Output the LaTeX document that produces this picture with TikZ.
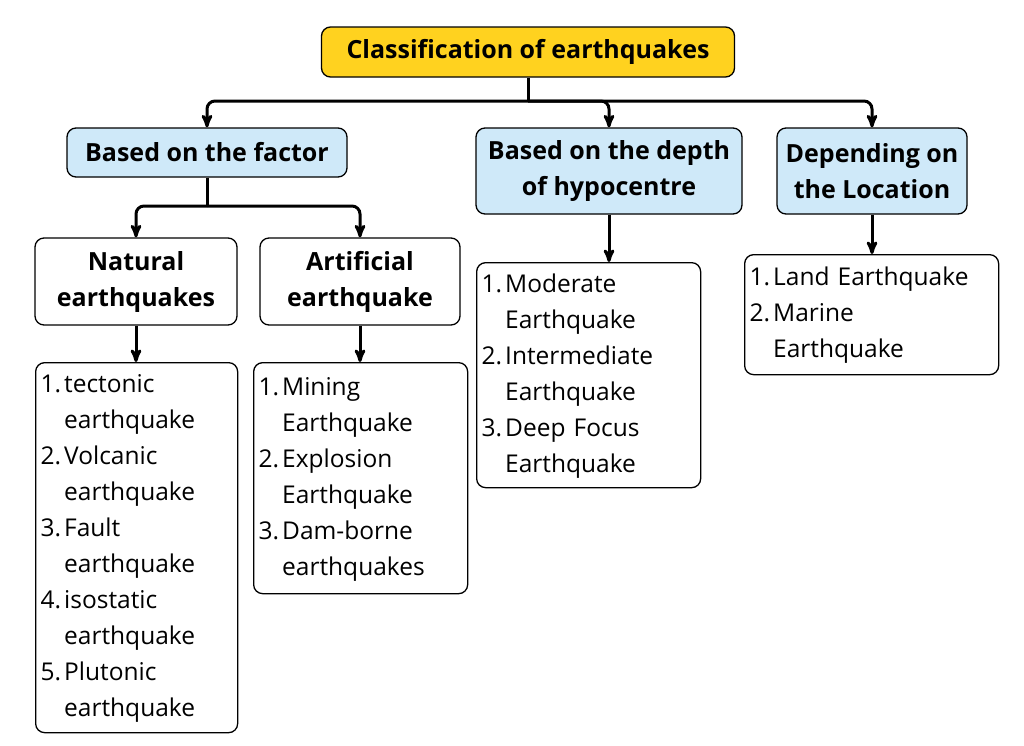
\documentclass[tikz,border=0pt]{standalone}
\usepackage{fontspec}
\setmainfont{Open Sans}
\usetikzlibrary{arrows}
\usetikzlibrary{positioning}
\definecolor{titlefill}{HTML}{FFD21F}
\definecolor{headfill}{HTML}{CFE9F9}
\tikzset{
  box/.style={draw,line width=1.3pt,rounded corners=9pt,align=center,inner sep=0pt,font=\fontsize{25}{36}\selectfont\bfseries},
  listbox/.style={draw,line width=1.3pt,rounded corners=9pt,anchor=north west,inner xsep=5pt,inner ysep=4pt,align=left},
  link/.style={line width=3pt,->,>=stealth',rounded corners=8pt}
}
\newcommand{\items}[1]{\begin{tabular}{@{}l@{\hspace{3pt}}l@{}}#1\end{tabular}}
\begin{document}
\begin{tikzpicture}[x=1pt,y=-1pt,font=\fontsize{24.5}{36}\selectfont]
  \useasboundingbox [fill=white] (0,0) rectangle (1024,745);

  \node [box,fill=titlefill,minimum width=413,minimum height=50] (title) at (528,52) {Classification of earthquakes};

  \node [box,fill=headfill,minimum width=280,minimum height=49] (factor) at (207,152.5) {Based on the factor};
  \node [box,fill=headfill,minimum width=266,minimum height=86] (depth) at (609,171) {Based on the depth\\of hypocentre};
  \node [box,fill=headfill,minimum width=190,minimum height=86] (loc) at (872,171) {Depending on\\the Location};

  \node [box,minimum width=202,minimum height=87] (natural) at (136,281.5) {Natural\\earthquakes};
  \node [box,minimum width=200,minimum height=87] (artificial) at (360,281.5) {Artificial\\earthquake};

  \node [listbox,text width=192,minimum height=370] (natlist) at (35,362) {\items{
    1. & tectonic\\ & earthquake\\ 2. & Volcanic\\ & earthquake\\ 3. & Fault\\ & earthquake\\
    4. & isostatic\\ & earthquake\\ 5. & Plutonic\\ & earthquake}};
  \node [listbox,text width=204,minimum height=231] (artlist) at (253,362) {\items{
    1. & Mining\\ & Earthquake\\ 2. & Explosion\\ & Earthquake\\ 3. & Dam-borne\\ & earthquakes}};
  \node [listbox,text width=214,minimum height=225] (deplist) at (476,262) {\items{
    1. & Moderate\\ & Earthquake\\ 2. & Intermediate\\ & Earthquake\\ 3. & Deep Focus\\ & Earthquake}};
  \node [listbox,text width=244,minimum height=120] (loclist) at (744,254) {\items{
    1. & Land Earthquake\\ 2. & Marine\\ & Earthquake}};

  % top level
  \coordinate (tj) at (528,101);
  \draw [line width=3pt] (title.south) -- (tj);
  \draw [link] (tj) -| (factor.north);
  \draw [link] (tj) -| (depth.north);
  \draw [link] (tj) -| (loc.north);

  % factor split
  \coordinate (fj) at (207,206);
  \draw [line width=3pt] (factor.south) -- (fj);
  \draw [link] (fj) -| (natural.north);
  \draw [link] (fj) -| (artificial.north);

  \draw [link] (natural.south) -- (natural.south |- natlist.north);
  \draw [link] (artificial.south) -- (artificial.south |- artlist.north);
  \draw [link] (depth.south) -- (depth.south |- deplist.north);
  \draw [link] (loc.south) -- (loc.south |- loclist.north);
\end{tikzpicture}
\end{document}
